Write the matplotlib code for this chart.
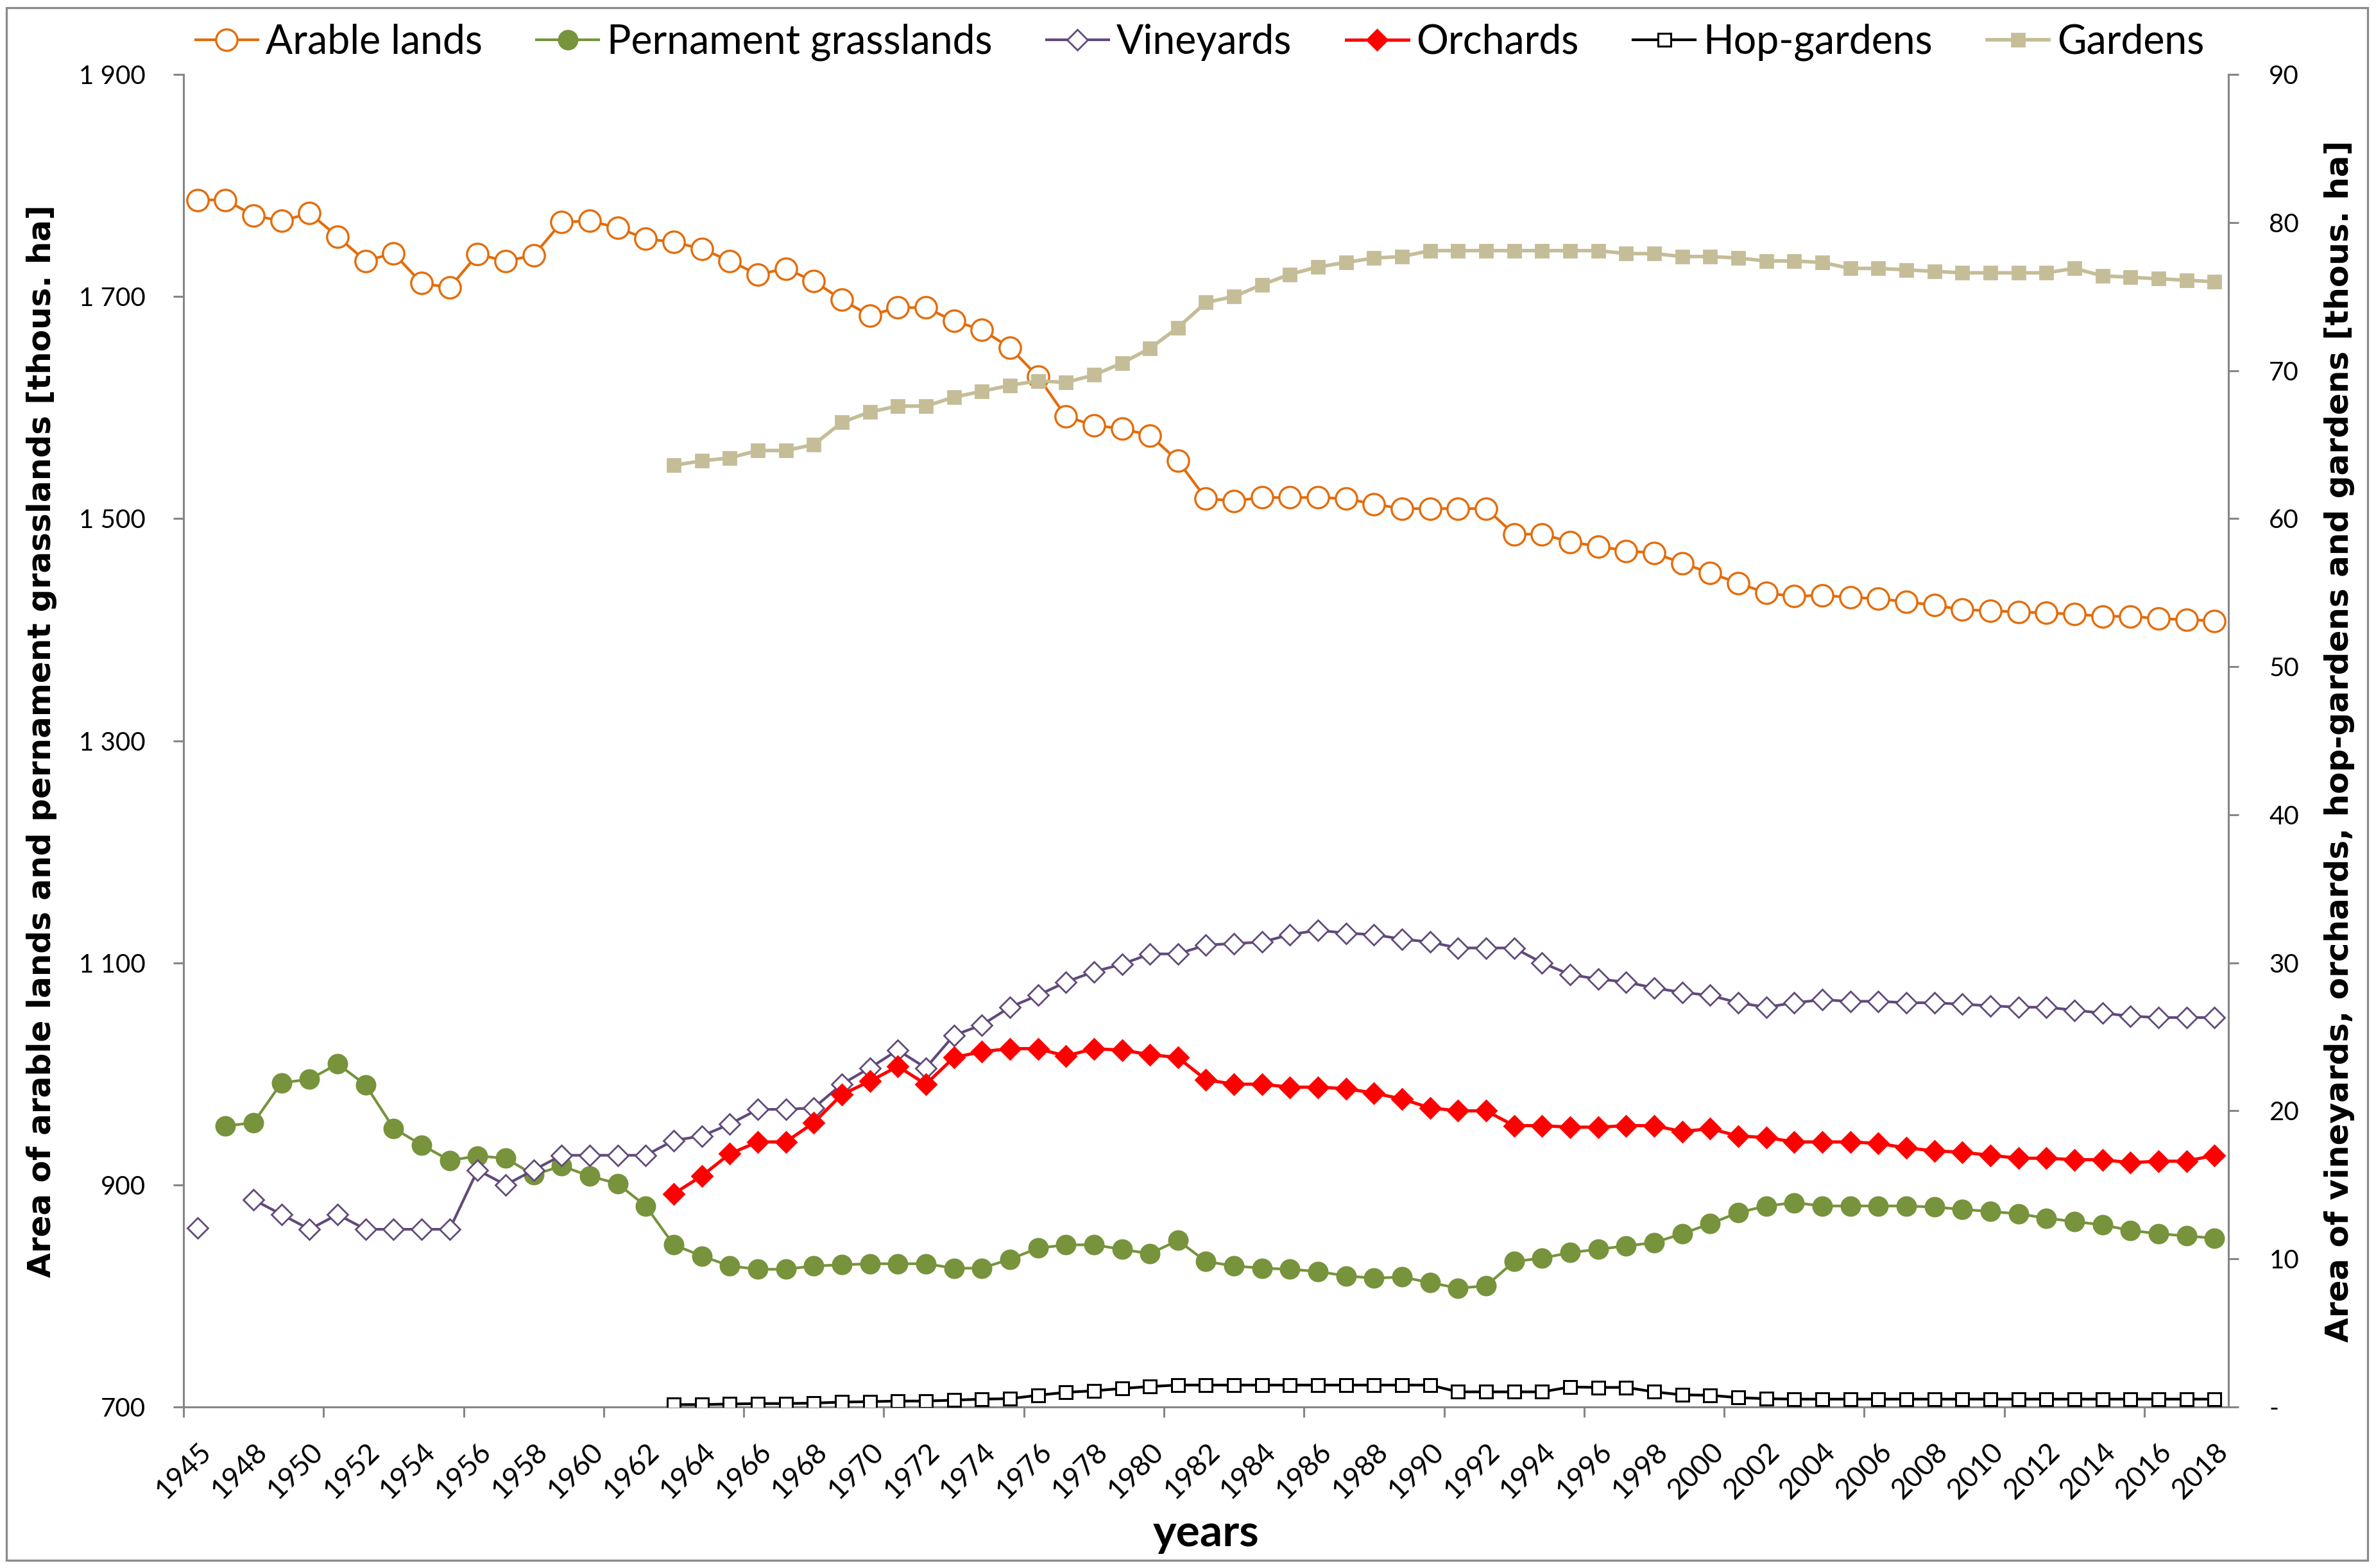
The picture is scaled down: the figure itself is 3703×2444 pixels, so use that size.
import numpy as np
import matplotlib
matplotlib.use("Agg")
import matplotlib.pyplot as plt
from matplotlib.patches import Rectangle

N = None
years = [1945, 1947] + list(range(1948, 2019))

arable = [1787, 1787,
          1773, 1768, 1775, 1754, 1732, 1739, 1712, 1708, 1738, 1732, 1737, 1767,   # 1948-1959
          1768, 1762, 1752, 1749, 1743, 1732, 1720, 1725, 1714, 1697,               # 1960-1969
          1683, 1690, 1690, 1678, 1670, 1654, 1628, 1592, 1584, 1581,               # 1970-1979
          1575, 1552, 1518, 1516, 1519, 1519, 1519, 1518, 1513, 1509,               # 1980-1989
          1509, 1509, 1509, 1486, 1486, 1479, 1475, 1471, 1469, 1460,               # 1990-1999
          1451, 1442, 1433, 1430, 1431, 1429, 1428, 1425, 1422, 1418,               # 2000-2009
          1417, 1416, 1415, 1414, 1412, 1412, 1410, 1409, 1408]                     # 2010-2018

grass = [N, 953,
         956, 992, 995, 1009, 990, 951, 936, 922, 926, 924, 909, 917,               # 1948-1959
         908, 901, 881, 846, 836, 827, 824, 824, 827, 828,                          # 1960-1969
         829, 829, 829, 825, 825, 833, 843, 846, 846, 842,                          # 1970-1979
         838, 850, 831, 827, 825, 824, 822, 818, 816, 817,                          # 1980-1989
         812, 807, 809, 831, 834, 839, 842, 845, 848, 856,                          # 1990-1999
         865, 875, 881, 884, 881, 881, 881, 881, 880, 878,                          # 2000-2009
         876, 874, 870, 867, 864, 859, 856, 854, 852]                               # 2010-2018

vine = [12.1, N,
        14.0, 13.0, 12.0, 13.0, 12.0, 12.0, 12.0, 12.0, 16.0, 15.0, 16.0, 17.0,     # 1948-1959
        17.0, 17.0, 17.0, 18.0, 18.3, 19.1, 20.1, 20.1, 20.2, 21.8,                 # 1960-1969
        22.9, 24.1, 22.9, 25.1, 25.8, 27.0, 27.8, 28.7, 29.4, 29.9,                 # 1970-1979
        30.6, 30.6, 31.2, 31.3, 31.4, 31.9, 32.2, 32.0, 31.9, 31.6,                 # 1980-1989
        31.4, 31.0, 31.0, 31.0, 30.0, 29.2, 28.9, 28.7, 28.3, 28.0,                 # 1990-1999
        27.8, 27.3, 27.0, 27.3, 27.5, 27.4, 27.4, 27.3, 27.3, 27.2,                 # 2000-2009
        27.1, 27.0, 27.0, 26.8, 26.6, 26.4, 26.3, 26.3, 26.3]                       # 2010-2018

orch = [N, N,
        N, N, N, N, N, N, N, N, N, N, N, N,                                         # 1948-1959
        N, N, N, 14.4, 15.6, 17.1, 17.9, 17.9, 19.2, 21.1,                          # 1960-1969
        22.0, 23.0, 21.8, 23.6, 24.0, 24.2, 24.2, 23.7, 24.2, 24.1,                 # 1970-1979
        23.8, 23.6, 22.1, 21.8, 21.8, 21.6, 21.6, 21.5, 21.2, 20.8,                 # 1980-1989
        20.2, 20.0, 20.0, 19.0, 19.0, 18.9, 18.9, 19.0, 19.0, 18.6,                 # 1990-1999
        18.8, 18.3, 18.2, 17.9, 17.9, 17.9, 17.8, 17.5, 17.3, 17.2,                 # 2000-2009
        17.0, 16.8, 16.8, 16.7, 16.7, 16.5, 16.6, 16.6, 17.0]                       # 2010-2018

hop = [N, N,
       N, N, N, N, N, N, N, N, N, N, N, N,                                          # 1948-1959
       N, N, N, 0.16, 0.16, 0.20, 0.23, 0.23, 0.26, 0.33,                           # 1960-1969
       0.36, 0.40, 0.40, 0.46, 0.53, 0.56, 0.79, 0.99, 1.09, 1.25,                  # 1970-1979
       1.38, 1.48, 1.48, 1.48, 1.48, 1.48, 1.48, 1.48, 1.48, 1.48,                  # 1980-1989
       1.48, 1.02, 1.02, 1.02, 1.02, 1.35, 1.32, 1.32, 1.02, 0.82,                  # 1990-1999
       0.79, 0.63, 0.56, 0.53, 0.53, 0.53, 0.53, 0.53, 0.53, 0.53,                  # 2000-2009
       0.53, 0.53, 0.53, 0.53, 0.53, 0.53, 0.53, 0.53, 0.53]                        # 2010-2018

gardens = [N, N,
           N, N, N, N, N, N, N, N, N, N, N, N,                                      # 1948-1959
           N, N, N, 63.6, 63.9, 64.1, 64.6, 64.6, 65.0, 66.5,                       # 1960-1969
           67.2, 67.6, 67.6, 68.2, 68.6, 69.0, 69.3, 69.2, 69.7, 70.5,              # 1970-1979
           71.5, 72.9, 74.6, 75.0, 75.8, 76.5, 77.0, 77.3, 77.6, 77.7,              # 1980-1989
           78.1, 78.1, 78.1, 78.1, 78.1, 78.1, 78.1, 77.9, 77.9, 77.7,              # 1990-1999
           77.7, 77.6, 77.4, 77.4, 77.3, 76.9, 76.9, 76.8, 76.7, 76.6,              # 2000-2009
           76.6, 76.6, 76.6, 76.9, 76.4, 76.3, 76.2, 76.1, 76.0]                    # 2010-2018

left_ticks = [700, 900, 1100, 1300, 1500, 1700, 1900]
left_labels = ["700", "900", "1 100", "1 300", "1 500", "1 700", "1 900"]
right_ticks = [0, 10, 20, 30, 40, 50, 60, 70, 80, 90]
right_labels = ["-", "10", "20", "30", "40", "50", "60", "70", "80", "90"]

def arr(v):
    return np.array([np.nan if x is None else x for x in v], dtype=float)

FONT = ['Lato', 'DejaVu Sans']
BOLD = ['DejaVu Sans']
AX_COL = '#868686'

W, H, DPI = 3703, 2444, 200
fig = plt.figure(figsize=(W / DPI, H / DPI), dpi=DPI)
fig.patch.set_facecolor('white')

L, R, B, T = 286 / W, 3473 / W, 1 - 2193 / H, 1 - 116 / H
ax = fig.add_axes([L, B, R - L, T - B])
ax2 = ax.twinx()

x = np.arange(len(years))

l1, = ax.plot(x, arr(arable), color='#E46C0A', lw=1.5, marker='o', ms=12,
              mfc='white', mec='#E46C0A', mew=1.2, label='Arable lands', zorder=3)
l2, = ax.plot(x, arr(grass), color='#77933C', lw=1.5, marker='o', ms=10.5,
              mfc='#77933C', mec='#77933C', mew=1, label='Pernament grasslands', zorder=3)

l3, = ax2.plot(x, arr(vine), color='#604A7B', lw=1.5, marker='D', ms=8,
               mfc='white', mec='#604A7B', mew=1.0, label='Vineyards', zorder=3)
l4, = ax2.plot(x, arr(orch), color='#FF0000', lw=1.8, marker='D', ms=8,
               mfc='#FF0000', mec='#FF0000', mew=1, label='Orchards', zorder=3)
l5, = ax2.plot(x, arr(hop), color='black', lw=1.5, marker='s', ms=7,
               mfc='white', mec='black', mew=1.1, label='Hop-gardens', zorder=3)
l6, = ax2.plot(x, arr(gardens), color='#C4BD97', lw=2.0, marker='s', ms=7,
               mfc='#C4BD97', mec='#C4BD97', mew=1, label='Gardens', zorder=3)

ax.set_xlim(-0.5, len(years) - 0.5)
ax.set_ylim(700, 1900)
ax2.set_ylim(0, 90)

# y axes
ax.set_yticks(left_ticks)
ax.set_yticklabels(left_labels, fontfamily=FONT, fontsize=14.5)
ax2.set_yticks(right_ticks)
ax2.set_yticklabels(right_labels, fontfamily=FONT, fontsize=14.5)
ax.tick_params(axis='y', direction='out', length=5.8, width=1.1, color=AX_COL, pad=15.5)
ax2.tick_params(axis='y', direction='out', length=5.8, width=1.1, color=AX_COL, pad=17)

# x axis
ax.set_xticks(x[::2])
ax.set_xticklabels([str(y) for y in years[::2]], fontfamily=FONT, fontsize=16,
                   rotation=45, ha='right', va='top', rotation_mode='anchor')
ax.tick_params(axis='x', which='major', length=0, pad=17.5)
ax.set_xticks(np.arange(-0.5, len(years) - 1, 5), minor=True)
ax.tick_params(axis='x', which='minor', direction='out', length=5.8, width=1.1, color=AX_COL)

for a in (ax, ax2):
    for s in a.spines.values():
        s.set_visible(False)
ax.spines['left'].set_visible(True)
ax.spines['bottom'].set_visible(True)
ax2.spines['right'].set_visible(True)
for s in (ax.spines['left'], ax.spines['bottom'], ax2.spines['right']):
    s.set_color(AX_COL)
    s.set_linewidth(1.1)

# axis titles
fig.text(65 / W, 1 - 1155 / H, 'Area of arable lands and pernament grasslands [thous. ha]',
         rotation=90, ha='center', va='center', fontfamily=BOLD, fontweight='bold', fontsize=18)
fig.text(3646 / W, 1 - 1155 / H, 'Area of vineyards, orchards, hop-gardens and gardens [thous. ha]',
         rotation=90, ha='center', va='center', fontfamily=BOLD, fontweight='bold', fontsize=18)
fig.text((L + R) / 2, 1 - 2390 / H, 'years', ha='center', va='center',
         fontfamily=FONT, fontweight='bold', fontsize=25)

# legend
handles = [l1, l2, l3, l4, l5, l6]
fig.legend(handles, [h.get_label() for h in handles], loc='center',
           bbox_to_anchor=(1870 / W, 1 - 66 / H), ncol=6, frameon=False,
           prop={'family': FONT, 'size': 22.5}, handlelength=1.55, handletextpad=0.2,
           columnspacing=1.35, numpoints=1, borderpad=0, borderaxespad=0)

# chart border
fig.add_artist(Rectangle((10 / W, 12 / H), (3690 - 10) / W, (2432 - 12) / H,
                         transform=fig.transFigure, fill=False, edgecolor='#8c8c8c',
                         linewidth=1.2))

fig.savefig('out.png', dpi=DPI, facecolor='white')
